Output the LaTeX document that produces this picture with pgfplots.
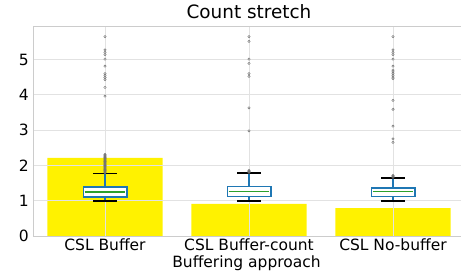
\documentclass[border=0pt]{standalone}
\usepackage{fontspec}
\setmainfont{DejaVu Sans}
\usepackage{pgfplots}
\pgfplotsset{compat=1.18}
\usepgfplotslibrary{statistics}
\definecolor{boxblue}{HTML}{1F77B4}
\definecolor{medgreen}{HTML}{2CA02C}
\definecolor{spine}{HTML}{CCCCCC}
\definecolor{gridc}{HTML}{E2E2E2}
\pgfplotsset{
  mpl box/.style={
    boxplot/draw direction=y,
    boxplot/box extend=0.3,
    boxplot/whisker extend=0.16,
    boxplot/draw/box/.code={
      \draw[draw=boxblue, fill=white, line width=1.8pt] (boxplot box cs:\pgfplotsboxplotvalue{lower quartile},0) rectangle (boxplot box cs:\pgfplotsboxplotvalue{upper quartile},1);
    },
    boxplot/draw/median/.code={
      \draw[draw=medgreen, line width=1.8pt] (boxplot box cs:\pgfplotsboxplotvalue{median},0.03) -- (boxplot box cs:\pgfplotsboxplotvalue{median},0.97);
    },
    boxplot/draw/lower whisker/.code={
      \draw[boxblue, line width=1.6pt] (boxplot cs:\pgfplotsboxplotvalue{lower whisker}) -- (boxplot cs:\pgfplotsboxplotvalue{lower quartile});
      \draw[black, line width=1.8pt] (boxplot whisker cs:\pgfplotsboxplotvalue{lower whisker},0) -- (boxplot whisker cs:\pgfplotsboxplotvalue{lower whisker},1);
    },
    boxplot/draw/upper whisker/.code={
      \draw[boxblue, line width=1.6pt] (boxplot cs:\pgfplotsboxplotvalue{upper whisker}) -- (boxplot cs:\pgfplotsboxplotvalue{upper quartile});
      \draw[black, line width=1.8pt] (boxplot whisker cs:\pgfplotsboxplotvalue{upper whisker},0) -- (boxplot whisker cs:\pgfplotsboxplotvalue{upper whisker},1);
    },
    mark=o, mark size=1.2pt, mark options={draw=black!55, line width=0.45pt, fill=none}, draw=none,
  }
}
\begin{document}
\begin{tikzpicture}
\begin{axis}[
  name=ax,
  set layers,
  scale only axis,
  width=432pt, height=209pt,
  xmin=-0.5, xmax=2.5, ymin=0, ymax=5.92,
  xtick={0,1,2},
  xticklabels={CSL Buffer, CSL Buffer-count, CSL No-buffer},
  ytick={0,1,2,3,4,5},
  /pgf/number format/assume math mode=true,
  major tick length=0pt,
  grid=major,
  major grid style={draw=gridc, line width=0.7pt},
  axis line style={draw=spine, line width=1pt},
  ticklabel style={font=\fontsize{15.5}{18}\selectfont, text=black},
  yticklabel style={inner sep=0pt, anchor=east, xshift=-4pt},
  xticklabel style={inner sep=0pt, yshift=-3pt, anchor=north},
  title={Count stretch},
  title style={font=\fontsize{18.4}{21}\selectfont, at={(axis description cs:0.5,1)}, anchor=base, inner sep=0pt, yshift=2pt, text=black},
  xlabel={Buffering approach},
  xlabel style={font=\fontsize{15.5}{18}\selectfont, at={(axis description cs:0.4943,0)}, anchor=base, inner sep=0pt, yshift=-31pt, text=black},
]
\addplot[on layer=axis background, ybar, bar width=0.8, fill=yellow, draw=none] coordinates {(0,2.21) (1,0.91) (2,0.79)};
\addplot[mpl box, boxplot prepared={draw position=0, lower whisker=1.0, lower quartile=1.11, median=1.25, upper quartile=1.39, upper whisker=1.77}]
coordinates {(0,1.79) (0,1.81) (0,1.83) (0,1.85) (0,1.87) (0,1.89) (0,1.91) (0,1.93) (0,1.95) (0,1.97) (0,1.99) (0,2.01) (0,2.03) (0,2.05) (0,2.07) (0,2.09) (0,2.11) (0,2.13) (0,2.15) (0,2.17) (0,2.19) (0,2.21) (0,2.23) (0,2.25) (0,2.27) (0,2.29) (0,2.31)
 (0,3.96) (0,4.21) (0,4.43) (0,4.49) (0,4.55) (0,4.60) (0,4.81) (0,5.01) (0,5.14) (0,5.20) (0,5.27) (0,5.65)};
\addplot[mpl box, boxplot prepared={draw position=1, lower whisker=1.0, lower quartile=1.12, median=1.26, upper quartile=1.40, upper whisker=1.78}]
coordinates {(1,1.80) (1,1.82) (1,1.84) (1,1.86) (1,2.98) (1,3.63) (1,4.52) (1,4.60) (1,4.89) (1,5.01) (1,5.51) (1,5.65)};
\addplot[mpl box, boxplot prepared={draw position=2, lower whisker=1.0, lower quartile=1.12, median=1.26, upper quartile=1.36, upper whisker=1.64}]
coordinates {(2,1.66) (2,1.68) (2,1.70) (2,1.72) (2,2.65) (2,2.75) (2,3.11) (2,3.59) (2,3.84) (2,4.46) (2,4.50) (2,4.55) (2,4.60) (2,4.65) (2,4.70) (2,4.81) (2,5.01) (2,5.14) (2,5.20) (2,5.27) (2,5.65)};
\end{axis}
\pgfresetboundingbox
\path[use as bounding box] ([shift={(-33pt,-35pt)}]ax.south west) rectangle ([shift={(-4pt,27pt)}]ax.north east);
\end{tikzpicture}
\end{document}
